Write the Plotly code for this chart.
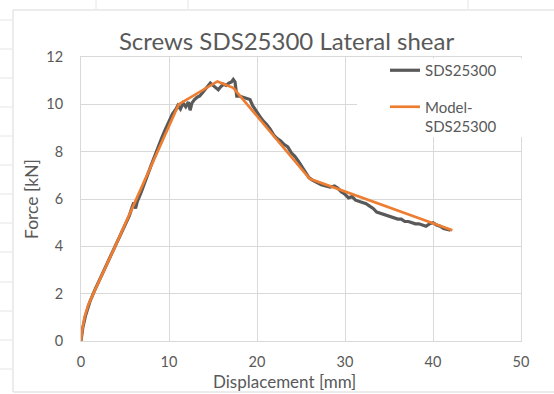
import plotly.graph_objects as go

test_x = [0, 0.2, 0.5, 1.0, 1.5, 2.0, 2.5, 3.0, 3.5, 4.0, 4.5, 5.0, 5.5, 5.8, 6.0, 6.2, 6.4,
          6.8, 7.2, 7.6, 8.0, 8.4, 8.8, 9.2, 9.6, 10.0, 10.4, 10.8, 11.0, 11.3, 11.6, 11.9,
          12.2, 12.4, 12.6, 12.9, 13.2, 13.5, 13.8, 14.1, 14.4, 14.7, 15.0, 15.3, 15.6, 15.9,
          16.2, 16.5, 16.8, 17.1, 17.3, 17.5, 17.7, 18.0, 18.4, 18.8, 19.2, 19.5, 19.9, 20.3,
          20.7, 21.1, 21.5, 21.9, 22.3, 22.7, 23.1, 23.5, 23.9, 24.3, 24.7, 25.1, 25.5, 25.9,
          26.3, 26.8, 27.3, 27.8, 28.3, 28.8, 29.2, 29.6, 30.0, 30.4, 30.8, 31.2, 31.6, 32.0,
          32.4, 32.8, 33.2, 33.6, 34.0, 34.4, 34.8, 35.2, 35.6, 36.0, 36.4, 36.8, 37.2, 37.6,
          38.0, 38.4, 38.8, 39.2, 39.6, 40.0, 40.4, 40.8, 41.2, 41.6, 42.0]
test_y = [0, 0.55, 1.05, 1.65, 2.1, 2.5, 2.9, 3.3, 3.7, 4.05, 4.45, 4.9, 5.3, 5.65, 5.85, 5.6, 5.9,
          6.25, 6.7, 7.05, 7.45, 7.85, 8.2, 8.6, 8.95, 9.3, 9.6, 9.8, 9.95, 9.8, 10.05, 9.9,
          10.1, 9.75, 10.05, 10.2, 10.3, 10.35, 10.5, 10.6, 10.75, 10.9, 10.8, 10.7, 10.62, 10.75,
          10.85, 10.8, 10.9, 10.95, 11.05, 10.95, 10.35, 10.35, 10.3, 10.25, 10.2, 9.95, 9.7, 9.5,
          9.3, 9.15, 8.95, 8.7, 8.55, 8.45, 8.3, 8.2, 7.95, 7.8, 7.6, 7.35, 7.1, 6.9,
          6.8, 6.7, 6.6, 6.55, 6.5, 6.55, 6.45, 6.3, 6.2, 6.05, 6.1, 5.95, 5.9, 5.85,
          5.8, 5.7, 5.6, 5.45, 5.4, 5.35, 5.3, 5.25, 5.2, 5.15, 5.15, 5.05, 5.05, 5.0,
          4.95, 4.95, 4.9, 4.85, 4.95, 5.0, 4.9, 4.85, 4.75, 4.72, 4.68]

# Model curve
model_x = [0, 0.15, 0.4, 0.8, 1.4, 2.5, 3.7, 11.1, 15.5, 17.3, 26.0, 42.2]
model_y = [0, 0.5, 1.0, 1.5, 2.0, 2.9, 3.85, 10.0, 10.97, 10.7, 6.85, 4.68]

x_ticks = [0, 10, 20, 30, 40, 50]
y_ticks = [0, 2, 4, 6, 8, 10, 12]

FONT = "Lato"
TXT = "#595959"
GRID = "#D9D9D9"

fig = go.Figure()
fig.add_trace(go.Scatter(x=test_x, y=test_y, mode="lines", name="SDS25300",
                         line=dict(color="#595959", width=3.2), legendgroup="a"))
fig.add_trace(go.Scatter(x=model_x, y=model_y, mode="lines", name="Model-<br>SDS25300",
                         line=dict(color="#ED7D31", width=2.7), legendgroup="b"))

W, H = 554, 394
L, R, T, B = 81, 33, 57, 53
pw, ph = W - L - R, H - T - B


def px(xp):
    return (xp - L) / pw


def py(yp):
    return (H - B - yp) / ph


shapes = [dict(type="rect", xref="paper", yref="paper", x0=px(13), x1=px(570), y0=py(392), y1=py(10),
               line=dict(color="#D9D9D9", width=1), fillcolor="rgba(0,0,0,0)", layer="below"),
          # white legend backdrop hiding gridlines, as in the reference
          dict(type="rect", xref="paper", yref="paper", x0=px(357), x1=px(526), y0=py(137), y1=py(58.5),
               line=dict(width=0), fillcolor="white", layer="above")]
# faint spreadsheet cell marks outside the chart frame
for yy in [20, 49, 78, 107, 136, 165, 194, 223, 252, 282, 311, 340, 369]:
    shapes.append(dict(type="line", xref="paper", yref="paper", x0=px(0), x1=px(12), y0=py(yy), y1=py(yy),
                       line=dict(color="#E6E6E6", width=1), layer="below"))
for xx in [96, 188, 468]:
    shapes.append(dict(type="line", xref="paper", yref="paper", x0=px(xx), x1=px(xx), y0=py(0), y1=py(9),
                       line=dict(color="#E6E6E6", width=1), layer="below"))

fig.update_layout(
    width=W, height=H,
    margin=dict(l=L, r=R, t=T, b=B, pad=0),
    paper_bgcolor="white", plot_bgcolor="white",
    font=dict(family=FONT, color=TXT),
    title=dict(text="Screws SDS25300 Lateral shear", x=286.5 / W, xanchor="center",
               y=1 - 42 / H, yanchor="middle", font=dict(size=24, color=TXT, family=FONT)),
    xaxis=dict(range=[0, 50], tickvals=x_ticks, showgrid=True, gridcolor=GRID, gridwidth=1,
               showline=True, linecolor=GRID, linewidth=1, mirror=True, zeroline=False,
               ticks="", tickfont=dict(size=14.5, color=TXT), ticklabelstandoff=8),
    yaxis=dict(range=[0, 12], tickvals=y_ticks, showgrid=True, gridcolor=GRID, gridwidth=1,
               showline=True, linecolor=GRID, linewidth=1, mirror=True, zeroline=False,
               ticks="", tickfont=dict(size=14.5, color=TXT), ticklabelstandoff=14),
    showlegend=True,
    legend=dict(x=px(385), y=py(54), xanchor="left", yanchor="top", bgcolor="rgba(0,0,0,0)",
                borderwidth=0, font=dict(size=15, color=TXT, family=FONT), valign="top",
                tracegroupgap=14, itemwidth=30),
    shapes=shapes,
    annotations=[
        dict(text="Displacement [mm]", xref="paper", yref="paper", x=px(284), y=py(381),
             xanchor="center", yanchor="middle", showarrow=False, font=dict(size=17, color=TXT)),
        dict(text="Force [kN]", xref="paper", yref="paper", x=px(31), y=py(199),
             xanchor="center", yanchor="middle", textangle=-90, showarrow=False,
             font=dict(size=17.5, color=TXT)),
    ],
)

fig.write_html("out.html")
